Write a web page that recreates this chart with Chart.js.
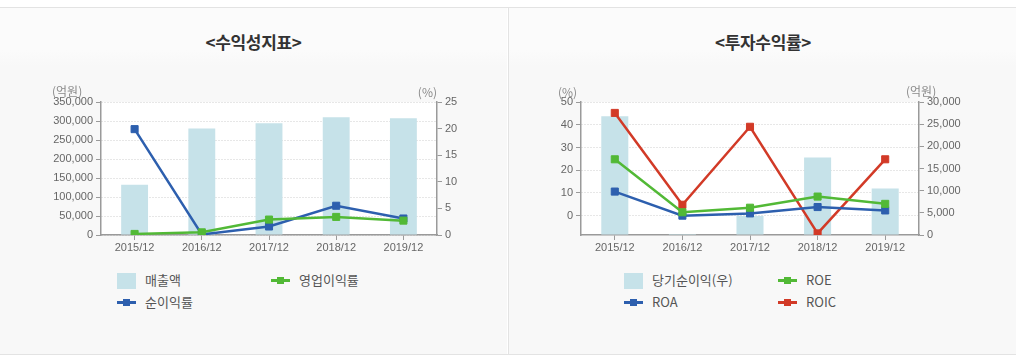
<!DOCTYPE html>
<html>
<head>
<meta charset="utf-8">
<script src="https://cdn.jsdelivr.net/npm/chart.js@4.4.1/dist/chart.umd.min.js"></script>
<style>
  body { margin: 0; width: 1016px; height: 361px; background: #fff; overflow: hidden;
         font-family: "Liberation Sans", "Noto Sans CJK KR", sans-serif; }
  .frame { position: absolute; left: 0; top: 7px; width: 1016px; height: 346px;
           border-top: 1px solid #e3e3e3; border-bottom: 1px solid #e3e3e3; }
  .panel { position: absolute; top: 0; width: 507px; height: 346px;
           background: linear-gradient(#fbfbfb 0, #fbfbfb 42px, #f8f8f8 58px, #f8f8f8 100%); }
  .panel.right { left: 508px; border-left: 1px solid #e3e3e3; width: 508px; }
  .title { position: absolute; top: 21px; width: 100%; text-align: center;
           font: bold 17px "Noto Sans CJK KR", sans-serif; color: #333; letter-spacing: -0.3px; }
  canvas { position: absolute; top: 73px; left: 0; }
  .legend { position: absolute; font: 13px "Noto Sans CJK KR", sans-serif; color: #555; }
  .item { position: absolute; white-space: nowrap; height: 18px; line-height: 18px; }
  .box { position: absolute; left: 0; top: 2px; width: 19px; height: 16px; }
  .ln { position: absolute; left: 0; top: 8px; width: 19px; height: 3px; }
  .ln i { position: absolute; left: 6px; top: -2px; width: 7px; height: 7px; }
  .item span { position: absolute; left: 28px; top: 0; }
</style>
</head>
<body>
<div class="frame">
  <div class="panel" id="p1">
    <div class="title">&lt;수익성지표&gt;</div>
    <canvas id="chart1" width="507" height="187"></canvas>
    <div class="legend" id="lg1"></div>
  </div>
  <div class="panel right" id="p2">
    <div class="title">&lt;투자수익률&gt;</div>
    <canvas id="chart2" width="508" height="187"></canvas>
    <div class="legend" id="lg2"></div>
  </div>
</div>
<script>
// shared
const years = ["2015/12", "2016/12", "2017/12", "2018/12", "2019/12"];

// 수익성지표
const sales = [132000, 280000, 294000, 310000, 307000];      // 매출액 (억원)
const opMargin = [0.2, 0.5, 2.9, 3.4, 2.7];                  // 영업이익률 (%)
const netMargin = [19.9, 0.1, 1.6, 5.5, 3.1];                // 순이익률 (%)
const salesTicks = [0, 50000, 100000, 150000, 200000, 250000, 300000, 350000];
const pctTicks1 = [0, 5, 10, 15, 20, 25];

// 투자수익률
const netIncome = [26800, 230, 4300, 17500, 10500];          // 당기순이익(우) (억원)
const roa = [10.6, 0.0, 1.0, 3.8, 2.3];
const roe = [24.8, 1.5, 3.5, 8.4, 5.2];
const roic = [45.2, 4.8, 39.1, -7.8, 24.8];
const pctTicks2 = [0, 10, 20, 30, 40, 50];
const incomeTicks = [0, 5000, 10000, 15000, 20000, 25000, 30000];

const BAR = "#c6e2e9", BLUE = "#2d5fae", GREEN = "#52b936", RED = "#d23a27";
const FONT = { family: '"Liberation Sans", "Noto Sans CJK KR", sans-serif', size: 11 };
const GRID = "#cfcfcf", AXIS = "#9a9a9a", TXT = "#666";

const plotBg = {
  id: "plotBg",
  beforeDraw(chart) {
    const a = chart.chartArea, c = chart.ctx;
    c.save();
    c.fillStyle = "#fff";
    c.fillRect(a.left, a.top, a.right - a.left, a.bottom - a.top);
    c.restore();
  }
};
const units = {
  id: "units",
  afterDraw(chart, args, opts) {
    const c = chart.ctx;
    c.save();
    c.font = '12px "Noto Sans CJK KR", sans-serif';
    c.fillStyle = "#8a8a8a";
    c.textBaseline = "middle";
    (opts.items || []).forEach(u => { c.textAlign = u.align; c.fillText(u.text, u.x, u.y); });
    c.restore();
  }
};

function fixTicks(list) {
  return s => { s.ticks = list.map(v => ({ value: v })); };
}
function lineSet(label, data, color, axis) {
  return {
    type: "line", label, data, yAxisID: axis, borderColor: color, backgroundColor: color,
    borderWidth: 2.5, pointStyle: "rect", pointRadius: 5, pointBorderWidth: 1,
    pointHoverRadius: 5, tension: 0, order: 1
  };
}
function barSet(label, data, axis) {
  return {
    type: "bar", label, data, yAxisID: axis, backgroundColor: BAR,
    barPercentage: 0.8, categoryPercentage: 0.5, order: 2
  };
}
function xScale() {
  return {
    grid: { display: true, drawOnChartArea: false, drawTicks: true, tickLength: 5, offset: false, color: AXIS },
    border: { color: AXIS, width: 1.5 },
    ticks: { font: FONT, color: TXT, padding: 1, maxRotation: 0 },
    afterFit: s => { s.height = 33; }
  };
}
function yScale(pos, min, max, ticks, width, grid) {
  return {
    position: pos, min, max,
    afterBuildTicks: fixTicks(ticks),
    grid: grid
      ? { color: GRID, tickColor: AXIS, tickLength: 5, drawTicks: true }
      : { drawOnChartArea: false, tickColor: AXIS, tickLength: 5 },
    border: { color: AXIS, width: 1.5, dash: grid ? [1, 2] : [] },
    ticks: { font: FONT, color: TXT, padding: 3, callback: v => v.toLocaleString("en-US") },
    afterFit: s => { s.width = width; }
  };
}

function baseOptions(scales, unitItems) {
  return {
    responsive: false, animation: false,
    layout: { padding: { top: 21, left: 0, right: 0, bottom: 0 } },
    plugins: { legend: { display: false }, tooltip: { enabled: false }, units: { items: unitItems } },
    scales
  };
}

// chart 1
new Chart(document.getElementById("chart1"), {
  data: {
    labels: years,
    datasets: [
      barSet("매출액", sales, "y"),
      lineSet("영업이익률", opMargin, GREEN, "y1"),
      lineSet("순이익률", netMargin, BLUE, "y1")
    ]
  },
  options: baseOptions({
    x: xScale(),
    y: yScale("left", 0, 350000, salesTicks, 101, true),
    y1: yScale("right", 0, 25, pctTicks1, 70, false)
  }, [
    { text: "(억원)", x: 52, y: 10, align: "left" },
    { text: "(%)", x: 437, y: 11, align: "right" }
  ]),
  plugins: [plotBg, units]
});

// chart 2
new Chart(document.getElementById("chart2"), {
  data: {
    labels: years,
    datasets: [
      barSet("당기순이익(우)", netIncome, "y1"),
      lineSet("ROE", roe, GREEN, "y"),
      lineSet("ROA", roa, BLUE, "y"),
      lineSet("ROIC", roic, RED, "y")
    ]
  },
  options: baseOptions({
    x: xScale(),
    y: yScale("left", -8.5, 50, pctTicks2, 72, true),
    y1: yScale("right", 0, 30000, incomeTicks, 98, false)
  }, [
    { text: "(%)", x: 49, y: 11, align: "left" },
    { text: "(억원)", x: 397, y: 10, align: "left" }
  ]),
  plugins: [plotBg, units]
});

// HTML legends (column x, row y inside panel)
function legend(el, chart, slots) {
  chart.data.datasets.forEach((ds, i) => {
    const d = document.createElement("div");
    d.className = "item";
    d.style.left = slots[i][0] + "px";
    d.style.top = slots[i][1] + "px";
    const mark = ds.type === "bar"
      ? `<div class="box" style="background:${ds.backgroundColor}"></div>`
      : `<div class="ln" style="background:${ds.borderColor}"><i style="background:${ds.borderColor}"></i></div>`;
    d.innerHTML = mark + `<span>${ds.label}</span>`;
    el.appendChild(d);
  });
}
legend(document.getElementById("lg1"), Chart.getChart("chart1"),
  [[117, 263], [271, 263], [117, 285]]);
legend(document.getElementById("lg2"), Chart.getChart("chart2"),
  [[115, 263], [269, 263], [115, 285], [269, 285]]);
</script>
</body>
</html>
